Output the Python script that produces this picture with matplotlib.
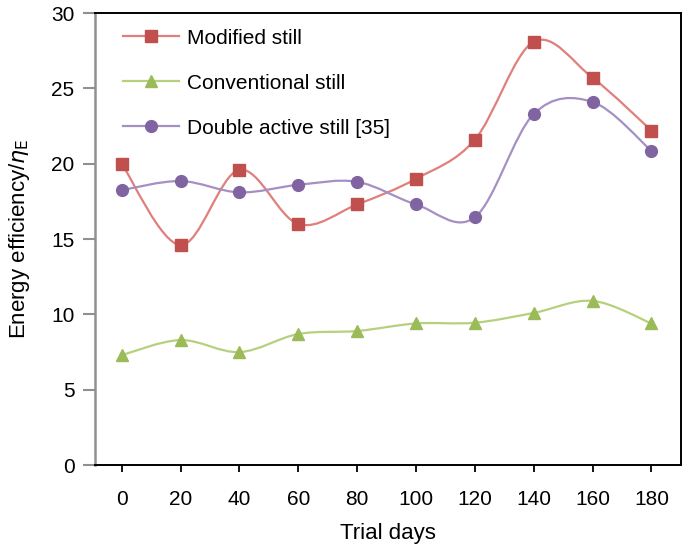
import numpy as np
import matplotlib
matplotlib.use("Agg")
import matplotlib.pyplot as plt
from matplotlib.path import Path
from matplotlib.patches import PathPatch

plt.rcParams['font.family'] = ['Liberation Sans', 'DejaVu Sans']

days = [0, 20, 40, 60, 80, 100, 120, 140, 160, 180]
modified = [20.0, 14.6, 19.6, 16.0, 17.3, 19.0, 21.6, 28.1, 25.7, 22.2]
conventional = [7.3, 8.3, 7.5, 8.7, 8.9, 9.4, 9.45, 10.1, 10.9, 9.4]
double_active = [18.25, 18.85, 18.1, 18.6, 18.8, 17.3, 16.45, 23.3, 24.1, 20.85]


def smooth_path(x, y):
    # Catmull-Rom style bezier through the points (like excel "smoothed line")
    pts = np.column_stack([x, y]).astype(float)
    n = len(pts)
    verts = [pts[0]]
    codes = [Path.MOVETO]
    for i in range(n - 1):
        p0 = pts[i - 1] if i > 0 else pts[i]
        p1 = pts[i]
        p2 = pts[i + 1]
        p3 = pts[i + 2] if i + 2 < n else pts[i + 1]
        c1 = p1 + (p2 - p0) / 6.0
        c2 = p2 - (p3 - p1) / 6.0
        verts += [c1, c2, p2]
        codes += [Path.CURVE4] * 3
    return Path(verts, codes)


fig, ax = plt.subplots(figsize=(6.85, 5.44), dpi=100)
fig.subplots_adjust(left=0.139, right=0.994, top=0.976, bottom=0.145)

xpos = np.arange(len(days))
series = [
    (modified, '#C0504D', '#E07F7B', 's', 'Modified still', 8),
    (conventional, '#9BBB59', '#B5D17D', '^', 'Conventional still', 8.5),
    (double_active, '#8064A2', '#A590C4', 'o', 'Double active still [35]', 8.5),
]
for vals, mc, lc, mk, lab, ms in series:
    ax.add_patch(PathPatch(smooth_path(xpos, vals), facecolor='none',
                           edgecolor=lc, lw=1.6, zorder=2))
    ax.plot(xpos, vals, ls='none', marker=mk, ms=ms, color=mc,
            markeredgecolor=mc, zorder=3)
    ax.plot([], [], color=lc, lw=1.6, marker=mk, ms=ms, mfc=mc, mec=mc,
            label=lab)

ax.set_xlim(-0.45, 9.5)
ax.set_ylim(0, 30)
ax.set_xticks(xpos)
ax.set_xticklabels([str(d) for d in days])
ax.set_yticks([0, 5, 10, 15, 20, 25, 30])

for s in ['top', 'right', 'bottom']:
    ax.spines[s].set_color('black')
    ax.spines[s].set_linewidth(1.4)
ax.spines['left'].set_color('#909090')
ax.spines['left'].set_linewidth(1.8)

ax.tick_params(axis='y', direction='out', length=9, width=1.5, color='#909090',
               labelsize=15, pad=6)
ax.tick_params(axis='x', direction='out', length=5, width=1.3, color='black',
               labelsize=15, pad=13)

ax.set_xlabel('Trial days', fontsize=16, labelpad=10)
ax.set_ylabel(r'Energy efficiency/$\eta_{\mathrm{E}}$', fontsize=16, labelpad=14)

ax.legend(loc='upper left', bbox_to_anchor=(0.02, 1.0), frameon=False,
          fontsize=15, handlelength=2.7, labelspacing=1.25, borderaxespad=0.35,
          handletextpad=0.4)

fig.savefig('out.png', dpi=100)
